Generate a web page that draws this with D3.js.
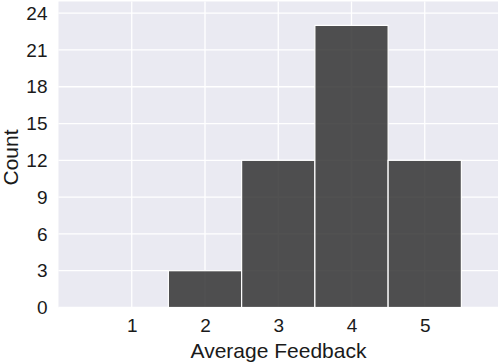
<!DOCTYPE html>
<html><head><meta charset="utf-8">
<script src="https://cdn.jsdelivr.net/npm/d3@7"></script>
<style>body{margin:0;background:#fff}svg{display:block}</style>
</head><body>
<svg id="c" width="500" height="364"></svg>
<script>
const bins = [1, 2, 3, 4, 5];
const counts = [0, 3, 12, 23, 12];
const xTicks = [1, 2, 3, 4, 5];
const yTicks = [0, 3, 6, 9, 12, 15, 18, 21, 24];
const xLabel = "Average Feedback";
const yLabel = "Count";

const svg = d3.select("#c");
const L = 58.5, R = 498, T = 1.5, B = 307.5;
const x = d3.scaleLinear().domain([0, 6]).range([L, R]);
const y = d3.scaleLinear().domain([0, 24.95]).range([B, T]);

svg.append("rect").attr("x", L).attr("y", T).attr("width", R - L).attr("height", B - T).attr("fill", "#eaeaf2");

const g = svg.append("g");
g.selectAll(".gy").data(yTicks).join("line")
  .attr("x1", L).attr("x2", R).attr("y1", d => y(d)).attr("y2", d => y(d))
  .attr("stroke", "#fff").attr("stroke-width", 1.3);
g.selectAll(".gx").data(xTicks).join("line")
  .attr("y1", T).attr("y2", B).attr("x1", d => x(d)).attr("x2", d => x(d))
  .attr("stroke", "#fff").attr("stroke-width", 1.3);

svg.append("g").selectAll("rect").data(bins.map((b, i) => ({b, c: counts[i]})).filter(d => d.c > 0)).join("rect")
  .attr("x", d => x(d.b - 0.5)).attr("width", d => x(d.b + 0.5) - x(d.b - 0.5))
  .attr("y", d => y(d.c)).attr("height", d => y(0) - y(d.c))
  .attr("fill", "#333333").attr("fill-opacity", 0.85)
  .attr("stroke", "#fff").attr("stroke-width", 1.2);

const font = "'Liberation Sans', Arial, sans-serif";
const xa = svg.append("g").attr("transform", `translate(0,${B})`)
  .call(d3.axisBottom(x).tickValues(xTicks).tickSize(0).tickPadding(11).tickFormat(d3.format("d")));
xa.select(".domain").remove();
xa.selectAll("text").attr("font-family", font).attr("font-size", 19).attr("fill", "#1a1a1a");

const ya = svg.append("g").attr("transform", `translate(${L},0)`)
  .call(d3.axisLeft(y).tickValues(yTicks).tickSize(0).tickPadding(11).tickFormat(d3.format("d")));
ya.select(".domain").remove();
ya.selectAll("text").attr("font-family", font).attr("font-size", 19).attr("fill", "#1a1a1a");

svg.append("text").attr("x", 278.5).attr("y", 358)
  .attr("text-anchor", "middle").attr("font-family", font).attr("font-size", 21).attr("fill", "#1a1a1a").text(xLabel);
svg.append("text").attr("transform", `translate(18,157.5) rotate(-90)`)
  .attr("text-anchor", "middle").attr("font-family", font).attr("font-size", 21).attr("fill", "#1a1a1a").text(yLabel);
</script>
</body></html>
